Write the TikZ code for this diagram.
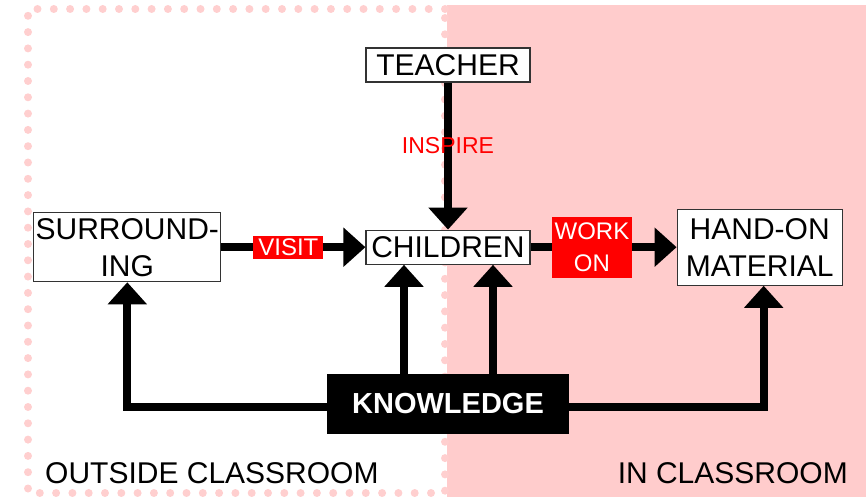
\documentclass[tikz,border=0pt]{standalone}
\usepackage{fontspec}
\setmainfont{Liberation Sans}
\usetikzlibrary{arrows.meta,positioning}
\definecolor{roompink}{HTML}{FFCCCC}
\definecolor{dotpink}{HTML}{FFCFCF}
\definecolor{labelred}{HTML}{FF0000}
\tikzset{
  box/.style={draw=black!80, line width=1.2pt, fill=white, inner sep=0pt, align=center,
    font=\fontsize{30}{37}\selectfont},
  link/.style={line width=8pt, -{Triangle[width=38pt,length=22pt]}},
  verb/.style={fill=labelred, text=white, inner sep=0pt, align=center,
    font=\fontsize{24}{32}\selectfont},
  area/.style={inner sep=0pt, font=\fontsize{30}{30}\selectfont},
}

\begin{document}
\begin{tikzpicture}[x=1pt,y=-1pt]
  \useasboundingbox (0,0) rectangle (866,497);
  % Classroom areas
  \fill[roompink] (447,5) rectangle (866,497);
  \draw[dotpink, line width=8pt, line cap=round, dash pattern=on 0pt off 16.3pt]
    (445,9) -- (28,9) -- (28,493) -- (445,493) -- cycle;
  % Boxes
  \node[box, minimum width=164pt, minimum height=34pt] (teacher) at (448,65) {TEACHER};
  \node[box, minimum width=164pt, minimum height=34pt, below=147pt of teacher] (children) {CHILDREN};
  \node[box, minimum width=187pt, minimum height=69pt, left=144pt of children] (surround) {SURROUND-\\ING};
  \node[box, minimum width=165pt, minimum height=76pt, right=146pt of children] (material) {HAND-ON\\MATERIAL};
  \node[fill=black, text=white, inner sep=0pt, minimum width=242pt, minimum height=60pt,
    font=\fontsize{29}{29}\selectfont\bfseries, below=109pt of children] (knowledge) {KNOWLEDGE};
  % Arrows
  \draw[link] (teacher.south) -- (teacher.south |- children.north)
    node[pos=0.43, text=labelred, inner sep=0pt, font=\fontsize{23}{23}\selectfont] (inspire) {INSPIRE};
  \draw[link] (surround.east) -- (children.west)
    node[verb, pos=0.465, minimum width=70pt, minimum height=23pt] (visit) {VISIT};
  \draw[link] (children.east) -- (material.west)
    node[verb, pos=0.42, minimum width=80pt, minimum height=61pt] (workon) {WORK\\ON};
  \draw[link] ([xshift=-44pt]knowledge.north) -- ([xshift=-44pt]knowledge.north |- children.south);
  \draw[link] ([xshift=45pt]knowledge.north) -- ([xshift=45pt]knowledge.north |- children.south);
  \draw[link] ([yshift=-3pt]knowledge.west) -| (surround.south);
  \draw[link] ([yshift=-3pt]knowledge.east) -| ([xshift=4pt]material.south);
  % Area names
  \node[area, anchor=base west] (outside) at (45,483) {OUTSIDE CLASSROOM};
  \node[area, anchor=base east] (inside) at (848,483) {IN CLASSROOM};
\end{tikzpicture}
\end{document}
